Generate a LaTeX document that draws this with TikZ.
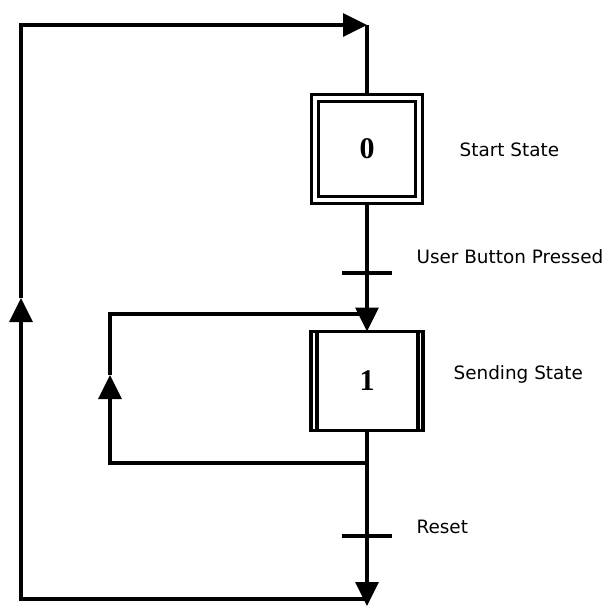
\documentclass[tikz,border=0pt]{standalone}
\usepackage{fontspec}
\setmainfont{DejaVu Sans}
\newfontfamily\stepfont{Liberation Serif}
\usetikzlibrary{arrows.meta}

\begin{document}
\begin{tikzpicture}[x=1pt, y=-1pt, line width=3.2pt,
	every node/.style={font=\fontsize{18.4}{22}\selectfont, inner sep=0pt},
	stepbox/.style={draw, rectangle, font=\stepfont\bfseries\fontsize{30}{34}\selectfont},
	flowarrow/.style={-{Triangle[length=24pt, width=23pt]}}]
	\useasboundingbox (0,0) rectangle (605,608);
	% steps
	\node[stepbox, double, double distance=3.6pt, minimum width=104pt, minimum height=102pt, outer sep=5.2pt] (s0) at (367,149) {0};
	\node[stepbox, minimum width=112pt, minimum height=99pt, outer sep=0pt] (s1) at (367,381) {1};
	\draw ([xshift=6pt]s1.north west) -- ([xshift=6pt]s1.south west);
	\draw ([xshift=-5pt]s1.north east) -- ([xshift=-5pt]s1.south east);
	\node[anchor=base west] (l0) at (458,156) {Start State};
	\node[anchor=base west] (l1) at (452,379) {Sending State};
	% transitions
	\coordinate (t1) at (367,273);
	\coordinate (t2) at (367,536);
	\node[anchor=base west] (lt1) at (415,263) {User Button Pressed};
	\node[anchor=base west] (lt2) at (415,533) {Reset};
	% corners
	\coordinate (top) at (367,25);
	\coordinate (topleft) at (21,25);
	\coordinate (botleft) at (21,599);
	\coordinate (botright) at (367,599);
	\coordinate (exit) at (367,606);
	\coordinate (upouter) at (21,298);
	\coordinate (loopout) at (367,463);
	\coordinate (loopbl) at (110,463);
	\coordinate (upinner) at (110,375);
	\coordinate (looptl) at (110,314);
	\coordinate (loopin) at (367,314);
	\draw (s0.south) -- (t1);
	\draw[flowarrow] (t1) -- (s1.north);
	\draw (s1.south) -- (t2);
	\draw[flowarrow] (t2) -- (exit);
	\foreach \t in {t1,t2}
		\draw ([xshift=-25pt]\t) -- ([xshift=25pt]\t);
	% back to step 1
	\draw[flowarrow] (loopout) -- (loopbl) -- (upinner);
	\draw (upinner) -- (looptl) -- (loopin);
	% back to step 0
	\draw[flowarrow] (botright) -- (botleft) -- (upouter);
	\draw[flowarrow] (upouter) -- (topleft) -- (top);
	\draw (top) -- (s0.north);
\end{tikzpicture}
\end{document}
